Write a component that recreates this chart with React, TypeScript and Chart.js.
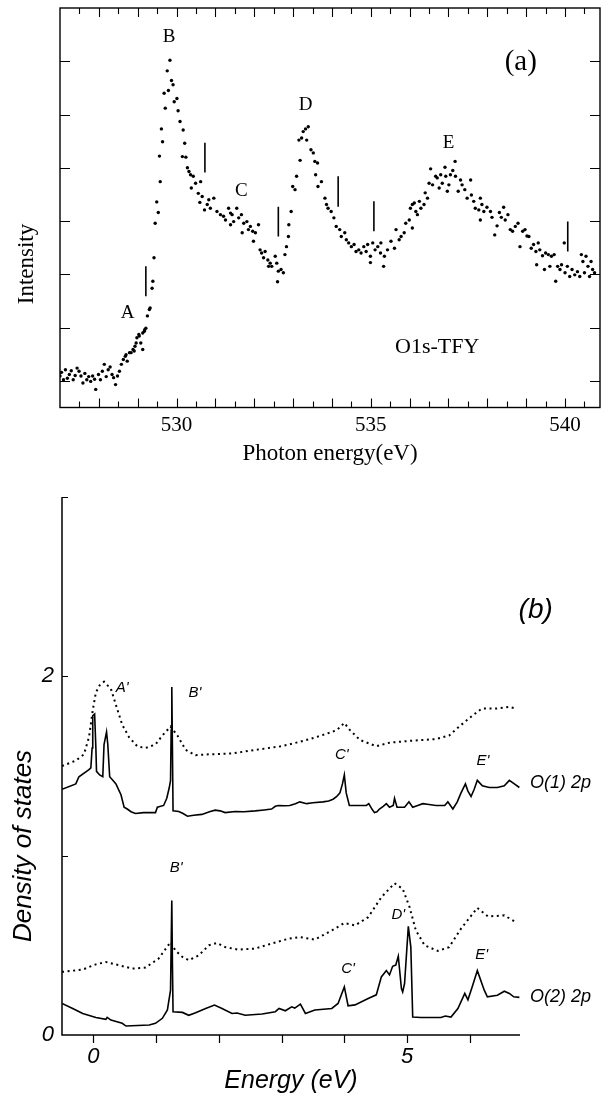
import React, { useEffect, useRef } from 'react';
import { Chart, registerables } from 'chart.js';

Chart.register(...registerables);

const SERIF = '"Liberation Serif", "Times New Roman", serif';
const SANS = '"Liberation Sans", Arial, sans-serif';

// ---------- Panel (a): O1s-TFY spectrum ----------
const tfyEnergy = [
  527.00, 527.04, 527.09, 527.14, 527.19, 527.24, 527.29, 527.34, 527.39, 527.44,
  527.49, 527.54, 527.59, 527.64, 527.69, 527.74, 527.79, 527.84, 527.89, 527.92,
  527.99, 528.04, 528.09, 528.14, 528.19, 528.24, 528.29, 528.34, 528.38, 528.43,
  528.48, 528.53, 528.58, 528.63, 528.68, 528.73, 528.83, 528.88, 528.93, 528.98,
  529.03, 529.08, 529.13, 529.18, 528.70, 528.79, 528.91, 528.96, 529.04, 529.13,
  529.17,
  529.21, 529.25, 529.30, 529.32, 529.37, 529.39, 529.42, 529.45, 529.53, 529.49,
  529.58, 529.56, 529.64, 529.61, 529.71, 529.68, 529.79, 529.76, 529.83, 529.87,
  529.91, 529.94, 530.01, 530.04, 530.09, 530.17, 530.21, 530.15, 530.24, 530.28,
  530.32, 530.36, 530.43, 530.49, 530.38, 530.56, 530.62, 530.66, 530.60, 530.72,
  530.83, 530.79, 530.87, 530.96, 531.04, 531.13, 531.21, 531.26, 531.39, 531.39,
  531.34, 531.43, 531.47, 531.55, 531.60, 531.67, 531.73, 531.69, 531.81, 531.85,
  531.90, 531.96, 531.98, 532.03, 532.11, 532.15, 532.19, 532.28, 532.24, 532.35,
  532.41, 532.37, 532.45, 532.54, 532.58, 532.62, 532.69, 532.75, 532.60, 532.79,
  532.83, 532.88, 532.89, 532.95, 532.99, 533.05, 533.09, 533.18, 533.15, 533.22,
  533.26, 533.32, 533.39, 533.35, 533.46, 533.52, 533.56, 533.63, 533.58, 533.64,
  533.73, 533.82, 533.86, 533.90, 533.98, 534.05, 534.11, 534.20, 534.24, 534.33,
  534.37, 534.43, 534.50, 534.57, 534.62, 534.69, 534.75, 534.82, 534.88, 534.92,
  534.99, 535.05, 535.11, 535.18, 535.26, 535.25, 534.99, 535.33, 535.35, 535.43,
  535.52, 535.61, 535.65, 535.73, 535.78, 535.86, 535.90, 535.99, 536.02, 536.07,
  536.12,
  536.07, 536.16, 536.20, 536.29, 536.25, 536.37, 536.40, 536.46, 536.50, 536.54,
  536.59, 536.67, 536.71, 536.76, 536.80, 536.84, 536.91, 536.93, 536.97, 537.01,
  537.05, 537.11, 537.17, 537.18, 537.25, 537.31, 537.35, 537.42, 537.48, 537.57,
  537.59, 537.65, 537.69, 537.78, 537.82, 537.86, 537.82, 537.91, 537.99, 538.08,
  538.12, 538.19, 538.25, 538.31, 538.36, 538.42, 538.46, 538.53, 538.59, 538.65,
  538.72, 538.79, 538.84, 538.91, 538.97, 539.02, 539.07, 539.13, 539.19, 539.25,
  539.27, 539.31, 539.35, 539.42, 539.47, 539.50, 539.57, 539.61, 539.65, 539.72,
  539.76, 539.81, 539.87, 539.91, 539.98, 540.00, 540.06, 540.12, 540.18, 540.25,
  540.32, 540.38, 540.42, 540.46, 540.50, 540.54, 540.59, 540.63, 540.67, 540.71,
  540.76,
];
const tfyIntensity = [
  0.09, 0.16, 0.02, 0.21, 0.05, 0.12, 0.19, 0.02, 0.10, 0.24,
  0.18, 0.09, -0.04, 0.14, 0.02, 0.08, -0.01, 0.09, 0.03, -0.16,
  0.12, 0.02, 0.18, 0.31, 0.08, 0.21, 0.26, 0.12, 0.06, -0.07,
  0.09, 0.18, 0.31, 0.40, 0.46, 0.37, 0.53, 0.59, 0.65, 0.81,
  0.87, 0.71, 0.90, 0.96, 0.49, 0.53, 0.56, 0.71, 0.84, 0.59,
  0.93,
  0.99, 1.22, 1.34, 1.37, 1.74, 1.87, 2.31, 2.96, 3.16, 3.36,
  3.74, 4.22, 4.49, 4.73, 5.12, 5.40, 5.45, 5.82, 6.02, 5.64,
  5.56, 5.24, 5.30, 5.07, 4.87, 4.71, 4.46, 4.21, 4.20, 4.00,
  3.93, 3.87, 3.84, 3.71, 3.62, 3.52, 3.74, 3.46, 3.35, 3.21,
  3.40, 3.31, 3.24, 3.43, 3.18, 3.12, 3.09, 3.02, 3.15, 2.93,
  3.24, 3.12, 2.99, 3.24, 3.06, 3.12, 2.96, 2.78, 2.99, 2.84,
  2.90, 2.81, 2.62, 2.78, 2.93, 2.46, 2.40, 2.43, 2.31, 2.27,
  2.21, 2.15, 2.15, 2.34, 2.21, 2.06, 2.09, 2.03, 1.86, 2.37,
  2.52, 2.71, 2.93, 3.18, 3.65, 3.59, 3.84, 4.14, 4.52, 4.56,
  4.68, 4.73, 4.77, 4.52, 4.34, 4.28, 4.12, 4.09, 3.87, 3.65,
  3.74, 3.43, 3.31, 3.24, 3.18, 3.06, 2.90, 2.84, 2.71, 2.78,
  2.65, 2.59, 2.52, 2.56, 2.43, 2.46, 2.40, 2.52, 2.43, 2.56,
  2.34, 2.59, 2.46, 2.52, 2.59, 2.40, 2.22, 2.15, 2.34, 2.46,
  2.62, 2.49, 2.84, 2.65, 2.71, 2.78, 2.96, 3.02, 3.24, 3.31,
  3.34,
  2.87, 3.18, 3.12, 3.24, 3.37, 3.31, 3.53, 3.43, 3.71, 3.98,
  3.68, 3.84, 3.81, 3.62, 3.87, 3.71, 4.01, 3.84, 3.56, 3.68,
  3.87, 3.95, 4.12, 3.84, 3.56, 3.77, 3.68, 3.59, 3.43, 3.77,
  3.49, 3.37, 3.24, 3.21, 3.43, 3.31, 3.02, 3.18, 3.26, 3.18,
  3.07, 2.74, 2.91, 3.16, 3.07, 3.26, 3.02, 3.12, 2.84, 2.81,
  2.90, 2.96, 2.52, 2.81, 2.84, 2.72, 2.71, 2.49, 2.56, 2.43,
  2.18, 2.59, 2.46, 2.35, 2.09, 2.40, 2.37, 2.15, 2.34, 2.37,
  1.87, 2.15, 2.09, 2.18, 2.59, 2.03, 2.15, 1.96, 2.09, 1.99,
  2.05, 1.96, 2.37, 2.24, 2.03, 2.34, 2.15, 1.96, 2.24, 2.09,
  2.03,
];

// vertical marker bars
const markerEnergy = [529.21, 530.73, 532.62, 534.16, 535.08, 540.07];
const markerLow = [1.59, 3.91, 2.71, 3.27, 2.81, 2.43];
const markerHigh = [2.15, 4.47, 3.27, 3.84, 3.37, 2.99];

const photonTickLabels = [530, 535, 540];
const intensityTicks = [0, 1, 2, 3, 4, 5, 6];

// ---------- Panel (b): density of states ----------
const o1SolidE = [
  -0.5, -0.28, -0.23, -0.07, -0.04, -0.02, -0.01, 0.02, 0.04, 0.05,
  0.10, 0.15, 0.17, 0.21, 0.23, 0.26, 0.31, 0.36, 0.40, 0.44,
  0.49, 0.54, 0.60, 0.67, 0.80, 0.99, 1.02, 1.12, 1.17, 1.21,
  1.23, 1.24, 1.25, 1.26, 1.27, 1.36, 1.43, 1.50, 1.60, 1.73,
  1.85, 1.94, 2.02, 2.10, 2.26, 2.40, 2.58, 2.72, 2.84, 2.90,
  2.95, 3.05, 3.13, 3.22, 3.29, 3.40, 3.50, 3.66, 3.75, 3.82,
  3.88, 3.93, 3.97, 4.00, 4.03, 4.08, 4.20, 4.35, 4.39, 4.44,
  4.48, 4.52, 4.56, 4.62, 4.67, 4.72, 4.78, 4.80, 4.84, 4.90,
  4.96, 5.03, 5.09, 5.17, 5.25, 5.35, 5.46, 5.60, 5.65, 5.73,
  5.80, 5.86, 5.93, 5.97, 6.02, 6.07, 6.12, 6.20, 6.31, 6.44,
  6.55, 6.63, 6.71, 6.79,
];
const o1SolidV = [
  1.37, 1.40, 1.44, 1.48, 1.49, 1.60, 1.78, 1.79, 1.60, 1.47,
  1.45, 1.44, 1.62, 1.69, 1.62, 1.44, 1.42, 1.40, 1.37, 1.34,
  1.27, 1.26, 1.245, 1.235, 1.24, 1.24, 1.27, 1.28, 1.32, 1.38,
  1.42, 1.70, 1.94, 1.60, 1.25, 1.246, 1.235, 1.22, 1.225, 1.23,
  1.245, 1.254, 1.25, 1.24, 1.246, 1.245, 1.25, 1.255, 1.26, 1.275,
  1.28, 1.278, 1.28, 1.29, 1.30, 1.29, 1.295, 1.30, 1.305, 1.315,
  1.33, 1.35, 1.40, 1.45, 1.35, 1.28, 1.28, 1.28, 1.29, 1.26,
  1.24, 1.245, 1.26, 1.275, 1.29, 1.27, 1.28, 1.32, 1.27, 1.27,
  1.27, 1.30, 1.27, 1.28, 1.29, 1.285, 1.28, 1.28, 1.30, 1.26,
  1.30, 1.35, 1.40, 1.36, 1.33, 1.37, 1.42, 1.39, 1.38, 1.38,
  1.39, 1.42, 1.40, 1.38,
];
const o1DotE = [
  -0.5, -0.28, -0.15, -0.07, -0.01, 0.04, 0.10, 0.17, 0.28, 0.36,
  0.46, 0.57, 0.70, 0.83, 0.99, 1.10, 1.23, 1.34, 1.47, 1.63,
  1.84, 2.21, 2.58, 3.00, 3.29, 3.45, 3.72, 3.88, 4.00, 4.09,
  4.25, 4.51, 4.72, 5.04, 5.46, 5.67, 5.83, 6.04, 6.19, 6.42,
  6.63, 6.73,
];
const o1DotV = [
  1.50, 1.53, 1.565, 1.66, 1.81, 1.91, 1.95, 1.97, 1.93, 1.84,
  1.73, 1.66, 1.61, 1.60, 1.62, 1.67, 1.72, 1.67, 1.59, 1.56,
  1.565, 1.57, 1.59, 1.61, 1.635, 1.65, 1.68, 1.70, 1.74, 1.70,
  1.645, 1.61, 1.63, 1.64, 1.65, 1.67, 1.72, 1.78, 1.82, 1.82,
  1.83, 1.82,
];
const o2SolidE = [
  -0.5, -0.33, -0.17, 0.04, 0.20, 0.22, 0.28, 0.46, 0.52, 0.89,
  0.99, 1.10, 1.18, 1.23, 1.25, 1.26, 1.27, 1.42, 1.52, 1.63,
  1.79, 1.93, 2.05, 2.21, 2.29, 2.42, 2.69, 2.90, 2.96, 3.06,
  3.16, 3.21, 3.30, 3.38, 3.53, 3.80, 3.90, 4.00, 4.06, 4.17,
  4.38, 4.51, 4.59, 4.67, 4.72, 4.77, 4.82, 4.86, 4.91, 4.93,
  4.96, 5.02, 5.06, 5.09, 5.22, 5.54, 5.61, 5.70, 5.81, 5.92,
  5.97, 6.04, 6.12, 6.23, 6.28, 6.44, 6.55, 6.63, 6.70, 6.79,
];
const o2SolidV = [
  0.176, 0.148, 0.12, 0.098, 0.087, 0.098, 0.083, 0.065, 0.05, 0.056,
  0.065, 0.093, 0.14, 0.25, 0.75, 0.40, 0.13, 0.126, 0.11, 0.124,
  0.148, 0.167, 0.148, 0.12, 0.123, 0.11, 0.117, 0.13, 0.148, 0.135,
  0.157, 0.15, 0.172, 0.12, 0.139, 0.148, 0.176, 0.268, 0.163, 0.168,
  0.204, 0.224, 0.324, 0.359, 0.335, 0.383, 0.39, 0.439, 0.259, 0.24,
  0.287, 0.606, 0.49, 0.10, 0.098, 0.098, 0.106, 0.10, 0.148, 0.232,
  0.196, 0.27, 0.359, 0.25, 0.213, 0.222, 0.244, 0.232, 0.213, 0.21,
];
const o2DotE = [
  -0.5, -0.17, 0.04, 0.20, 0.41, 0.62, 0.83, 1.04, 1.23, 1.31,
  1.42, 1.52, 1.68, 1.84, 1.97, 2.10, 2.31, 2.58, 2.84, 3.11,
  3.29, 3.53, 3.80, 4.00, 4.17, 4.38, 4.59, 4.80, 4.93, 5.04,
  5.14, 5.28, 5.49, 5.67, 5.86, 6.12, 6.29, 6.55, 6.73,
];
const o2DotV = [
  0.352, 0.365, 0.394, 0.407, 0.389, 0.37, 0.376, 0.426, 0.518, 0.47,
  0.435, 0.417, 0.444, 0.50, 0.513, 0.49, 0.476, 0.482, 0.51, 0.537,
  0.546, 0.532, 0.583, 0.624, 0.611, 0.657, 0.768, 0.846, 0.815, 0.713,
  0.583, 0.50, 0.469, 0.49, 0.593, 0.709, 0.661, 0.667, 0.63,
];

const energyTickLabels = [0, 5];
const energyTicksB = [0, 1, 2, 3, 4, 5, 6];
const dosTickLabels = [0, 2];
const dosTicks = [0, 1, 2, 3];

// ---------- annotations ----------
const annotationsA = [
  { text: 'A', e: 528.74, i: 1.28, size: 19 },
  { text: 'B', e: 529.81, i: 6.46, size: 19 },
  { text: 'C', e: 531.67, i: 3.56, size: 19 },
  { text: 'D', e: 533.32, i: 5.18, size: 19 },
  { text: 'E', e: 537.0, i: 4.47, size: 19 },
  { text: '(a)', e: 538.86, i: 5.97, size: 29 },
  { text: 'O1s-TFY', e: 536.71, i: 0.64, size: 22 },
];
const annotationsB = [
  { text: "A'", e: 0.46, v: 1.935, size: 15, align: 'center' },
  { text: "B'", e: 1.62, v: 1.91, size: 15, align: 'center' },
  { text: "C'", e: 3.96, v: 1.56, size: 15, align: 'center' },
  { text: "E'", e: 6.21, v: 1.53, size: 15, align: 'center' },
  { text: 'O(1) 2p', e: 6.96, v: 1.405, size: 18, align: 'left' },
  { text: "B'", e: 1.32, v: 0.93, size: 15, align: 'center' },
  { text: "C'", e: 4.06, v: 0.37, size: 15, align: 'center' },
  { text: "D'", e: 4.86, v: 0.67, size: 15, align: 'center' },
  { text: "E'", e: 6.19, v: 0.446, size: 15, align: 'center' },
  { text: 'O(2) 2p', e: 6.96, v: 0.21, size: 18, align: 'left' },
  { text: '(b)', e: 7.05, v: 2.37, size: 28, align: 'center' },
];

const pairs = (xs: number[], ys: number[]) => xs.map((x, k) => ({ x, y: ys[k] }));

const panelAPlugin = {
  id: 'panelAFrame',
  afterDraw(chart: any) {
    const { ctx, chartArea: ca, scales } = chart;
    const x = scales.x;
    const y = scales.y;
    ctx.save();
    ctx.strokeStyle = '#000';
    ctx.lineWidth = 1.4;
    ctx.strokeRect(ca.left, ca.top, ca.right - ca.left, ca.bottom - ca.top);
    ctx.lineWidth = 1.1;
    ctx.beginPath();
    for (let k = 0; 527.5 + k * 0.5 < x.max; k++) {
      const v = 527.5 + k * 0.5;
      const px = Math.round(x.getPixelForValue(v)) + 0.5;
      const len = v % 1 === 0 ? 9 : 6;
      ctx.moveTo(px, ca.bottom);
      ctx.lineTo(px, ca.bottom - len);
      ctx.moveTo(px, ca.top);
      ctx.lineTo(px, ca.top + len);
    }
    for (const v of intensityTicks) {
      const py = Math.round(y.getPixelForValue(v)) + 0.5;
      ctx.moveTo(ca.left, py);
      ctx.lineTo(ca.left + 10, py);
      ctx.moveTo(ca.right, py);
      ctx.lineTo(ca.right - 10, py);
    }
    ctx.stroke();
    ctx.fillStyle = '#000';
    ctx.textAlign = 'center';
    ctx.textBaseline = 'middle';
    for (const a of annotationsA) {
      ctx.font = `${a.size}px ${SERIF}`;
      ctx.fillText(a.text, x.getPixelForValue(a.e), y.getPixelForValue(a.i));
    }
    ctx.translate(27, 264);
    ctx.rotate(-Math.PI / 2);
    ctx.font = `23px ${SERIF}`;
    ctx.fillText('Intensity', 0, 0);
    ctx.restore();
  },
};

const panelBPlugin = {
  id: 'panelBFrame',
  afterDraw(chart: any) {
    const { ctx, chartArea: ca, scales } = chart;
    const x = scales.x;
    const y = scales.y;
    ctx.save();
    ctx.strokeStyle = '#000';
    ctx.lineWidth = 1.5;
    ctx.beginPath();
    ctx.moveTo(ca.left, ca.top);
    ctx.lineTo(ca.left, ca.bottom);
    ctx.lineTo(ca.right, ca.bottom);
    ctx.stroke();
    ctx.lineWidth = 1.2;
    ctx.beginPath();
    for (const v of dosTicks) {
      if (v === 0) continue;
      const py = Math.round(y.getPixelForValue(v)) + 0.5;
      ctx.moveTo(ca.left, py);
      ctx.lineTo(ca.left + 6, py);
    }
    for (const v of energyTicksB) {
      const px = Math.round(x.getPixelForValue(v)) + 0.5;
      ctx.moveTo(px, ca.bottom);
      ctx.lineTo(px, ca.bottom + 8);
    }
    ctx.stroke();
    ctx.fillStyle = '#000';
    ctx.textBaseline = 'middle';
    for (const a of annotationsB) {
      ctx.font = `italic ${a.size}px ${SANS}`;
      ctx.textAlign = a.align as CanvasTextAlign;
      ctx.fillText(a.text, x.getPixelForValue(a.e), y.getPixelForValue(a.v));
    }
    ctx.textAlign = 'center';
    ctx.translate(24, 376);
    ctx.rotate(-Math.PI / 2);
    ctx.font = `italic 26px ${SANS}`;
    ctx.fillText('Density of states', 0, 0);
    ctx.restore();
  },
};

function PanelA() {
  const ref = useRef<HTMLCanvasElement>(null);
  useEffect(() => {
    const chart = new Chart(ref.current as HTMLCanvasElement, {
      type: 'scatter',
      data: {
        datasets: [
          {
            data: pairs(tfyEnergy, tfyIntensity),
            pointRadius: 1.7,
            pointBackgroundColor: '#000',
            pointBorderWidth: 0,
            showLine: false,
          },
          ...markerEnergy.map((e, k) => ({
            data: [
              { x: e, y: markerLow[k] },
              { x: e, y: markerHigh[k] },
            ],
            showLine: true,
            borderColor: '#000',
            borderWidth: 1.6,
            pointRadius: 0,
          })),
        ],
      },
      options: {
        responsive: false,
        animation: false,
        events: [],
        layout: { padding: { left: 0, right: 8, top: 8, bottom: 0 } },
        plugins: { legend: { display: false }, tooltip: { enabled: false } },
        scales: {
          x: {
            type: 'linear',
            min: 527,
            max: 540.9,
            afterFit: (s: any) => { s.height = 62.5; },
            afterBuildTicks: (s: any) => { s.ticks = photonTickLabels.map((v) => ({ value: v })); },
            grid: { display: false, drawTicks: false },
            border: { display: false },
            ticks: {
              autoSkip: false,
              maxRotation: 0,
              color: '#000',
              padding: 5,
              font: { family: SERIF, size: 21 },
              callback: (v: any) => String(v),
            },
            title: {
              display: true,
              text: 'Photon energy(eV)',
              color: '#000',
              font: { family: SERIF, size: 23 },
              padding: { top: 0, bottom: 2 },
            },
          },
          y: {
            type: 'linear',
            min: -0.5,
            max: 7,
            afterFit: (s: any) => { s.width = 60; },
            grid: { display: false, drawTicks: false },
            border: { display: false },
            ticks: { display: false },
          },
        },
      },
      plugins: [panelAPlugin],
    } as any);
    return () => chart.destroy();
  }, []);
  return <canvas ref={ref} width={608} height={470} style={{ display: 'block' }} />;
}

function PanelB() {
  const ref = useRef<HTMLCanvasElement>(null);
  useEffect(() => {
    const solid = { showLine: true, borderColor: '#000', borderWidth: 1.6, pointRadius: 0, tension: 0 };
    const dotted = { ...solid, borderWidth: 2, borderDash: [2, 3.6] };
    const chart = new Chart(ref.current as HTMLCanvasElement, {
      type: 'scatter',
      data: {
        datasets: [
          { data: pairs(o1DotE, o1DotV), ...dotted },
          { data: pairs(o1SolidE, o1SolidV), ...solid },
          { data: pairs(o2DotE, o2DotV), ...dotted },
          { data: pairs(o2SolidE, o2SolidV), ...solid },
        ],
      },
      options: {
        responsive: false,
        animation: false,
        events: [],
        layout: { padding: { left: 0, right: 88, top: 27, bottom: 0 } },
        plugins: { legend: { display: false }, tooltip: { enabled: false } },
        scales: {
          x: {
            type: 'linear',
            min: -0.5,
            max: 6.8,
            afterFit: (s: any) => { s.height = 63; },
            afterBuildTicks: (s: any) => { s.ticks = energyTicksB.map((v) => ({ value: v })); },
            grid: { display: false, drawTicks: false },
            border: { display: false },
            ticks: {
              autoSkip: false,
              maxRotation: 0,
              color: '#000',
              padding: 9,
              font: { family: SANS, size: 22, style: 'italic' },
              callback: (v: any) => (energyTickLabels.includes(Number(v)) ? String(v) : ''),
            },
            title: {
              display: true,
              text: 'Energy (eV)',
              color: '#000',
              font: { family: SANS, size: 25, style: 'italic' },
              padding: { top: 0, bottom: 2 },
            },
          },
          y: {
            type: 'linear',
            min: 0,
            max: 3,
            afterFit: (s: any) => { s.width = 62; },
            afterBuildTicks: (s: any) => { s.ticks = dosTicks.map((v) => ({ value: v })); },
            grid: { display: false, drawTicks: false },
            border: { display: false },
            ticks: {
              autoSkip: false,
              color: '#000',
              padding: 8,
              font: { family: SANS, size: 22, style: 'italic' },
              callback: (v: any) => (dosTickLabels.includes(Number(v)) ? String(v) : ''),
            },
          },
        },
      },
      plugins: [panelBPlugin],
    } as any);
    return () => chart.destroy();
  }, []);
  return <canvas ref={ref} width={608} height={628} style={{ display: 'block' }} />;
}

export default function App() {
  return (
    <div style={{ position: 'absolute', left: 0, top: 0, width: 608, height: 1098, background: '#fff' }}>
      <div style={{ position: 'absolute', left: 0, top: 0 }}>
        <PanelA />
      </div>
      <div style={{ position: 'absolute', left: 0, top: 470 }}>
        <PanelB />
      </div>
    </div>
  );
}
